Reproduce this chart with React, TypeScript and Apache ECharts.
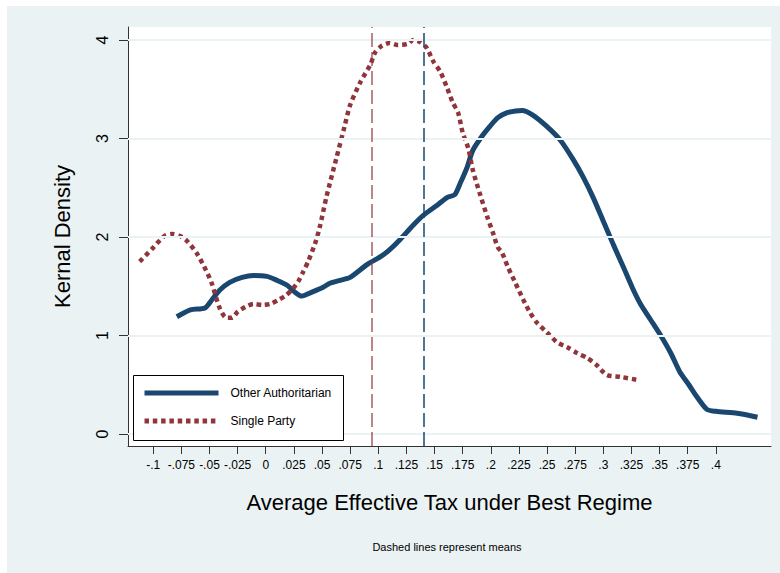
import React, { useEffect, useRef } from "react";
import * as echarts from "echarts";

// Kernel density estimates of average effective tax, by regime type
const authX = [
  -0.079, -0.067, -0.054, -0.048, -0.041, -0.032, -0.021, -0.011, 0.001, 0.01,
  0.019, 0.026, 0.032, 0.041, 0.051, 0.057, 0.066, 0.075, 0.09, 0.102, 0.11,
  0.119, 0.131, 0.14, 0.152, 0.161, 0.168, 0.173, 0.179, 0.184, 0.192, 0.199,
  0.206, 0.214, 0.222, 0.228, 0.237, 0.25, 0.262, 0.273, 0.282, 0.291, 0.3,
  0.309, 0.318, 0.326, 0.333, 0.342, 0.351, 0.36, 0.368, 0.376, 0.383, 0.392,
  0.4, 0.419, 0.437,
];
const authY = [
  1.19, 1.26, 1.28, 1.36, 1.46, 1.54, 1.59, 1.61, 1.6, 1.56,
  1.51, 1.44, 1.4, 1.44, 1.49, 1.53, 1.56, 1.59, 1.72, 1.8, 1.87,
  1.97, 2.12, 2.22, 2.32, 2.4, 2.43, 2.55, 2.71, 2.88, 3.02, 3.12,
  3.21, 3.26, 3.28, 3.285, 3.24, 3.12, 2.98, 2.79, 2.61, 2.4, 2.16,
  1.92, 1.69, 1.48, 1.32, 1.16, 1.0, 0.82, 0.63, 0.5, 0.38, 0.25,
  0.23, 0.21, 0.17,
];

const singleX = [
  -0.112, -0.101, -0.09, -0.083, -0.076, -0.07, -0.061, -0.053, -0.048, -0.041,
  -0.035, -0.03, -0.025, -0.018, -0.011, -0.003, 0.004, 0.011, 0.017, 0.023,
  0.029, 0.033, 0.038, 0.044, 0.048, 0.054, 0.063, 0.07, 0.075, 0.084, 0.093,
  0.097, 0.103, 0.11, 0.117, 0.126, 0.131, 0.137, 0.143, 0.149, 0.155, 0.161,
  0.166, 0.171, 0.175, 0.18, 0.184, 0.19, 0.197, 0.202, 0.206, 0.21, 0.215,
  0.222, 0.229, 0.235, 0.241, 0.25, 0.259, 0.268, 0.277, 0.286, 0.294, 0.303,
  0.315, 0.33,
];
const singleY = [
  1.75, 1.88, 2.01, 2.03, 2.01, 1.96, 1.83, 1.66, 1.53, 1.28,
  1.18, 1.18, 1.24, 1.29, 1.32, 1.31, 1.32, 1.36, 1.4, 1.46,
  1.55, 1.64, 1.76, 1.94, 2.1, 2.41, 2.81, 3.12, 3.34, 3.57, 3.75,
  3.87, 3.94, 3.97, 3.95, 3.96, 4.0, 3.98, 3.92, 3.78, 3.68, 3.52,
  3.37, 3.26, 3.06, 2.9, 2.68, 2.45, 2.2, 2.04, 1.9, 1.84, 1.7,
  1.53, 1.36, 1.23, 1.13, 1.03, 0.93, 0.88, 0.82, 0.77, 0.7, 0.6,
  0.58, 0.55,
];

const seriesNames = ["Other Authoritarian", "Single Party"];
const groupMeans = [0.14, 0.094]; // Other Authoritarian, Single Party

const xTickValues = [
  -0.1, -0.075, -0.05, -0.025, 0, 0.025, 0.05, 0.075, 0.1, 0.125, 0.15, 0.175,
  0.2, 0.225, 0.25, 0.275, 0.3, 0.325, 0.35, 0.375, 0.4,
];
const xTickLabels = [
  "-.1", "-.075", "-.05", "-.025", "0", ".025", ".05", ".075", ".1", ".125",
  ".15", ".175", ".2", ".225", ".25", ".275", ".3", ".325", ".35", ".375", ".4",
];
const yTickValues = [0, 1, 2, 3, 4];
const yTickLabels = ["0", "1", "2", "3", "4"];

const NAVY = "#1a476f";
const MAROON = "#90353b";
const PANEL = "#eaf2f3";
const FONT = "'Liberation Sans', Arial, sans-serif";

const pairs = (xs: number[], ys: number[]) => xs.map((x, i) => [x, ys[i]]);
const labelFor = (vals: number[], labels: string[]) => (v: number) => {
  let best = 0;
  for (let i = 1; i < vals.length; i++) {
    if (Math.abs(vals[i] - v) < Math.abs(vals[best] - v)) best = i;
  }
  return labels[best];
};

export default function App() {
  const ref = useRef<HTMLDivElement>(null);

  useEffect(() => {
    if (!ref.current) return;
    const chart = echarts.init(ref.current, undefined, { renderer: "svg" });

    const gridLeft = 128;
    const gridTop = 27;
    const gridWidth = 643;
    const gridHeight = 419;

    chart.setOption({
      animation: false,
      backgroundColor: "#ffffff",
      textStyle: { fontFamily: FONT },
      graphic: [
        {
          type: "rect",
          z: -10,
          silent: true,
          shape: { x: 7, y: 6, width: 773, height: 567 },
          style: { fill: PANEL },
        },
        {
          type: "rect",
          z: 50,
          silent: true,
          shape: { x: 133.5, y: 375.5, width: 210, height: 65 },
          style: { fill: "#ffffff", stroke: "#000000", lineWidth: 1 },
        },
        {
          type: "text",
          z: 50,
          silent: true,
          x: 447,
          y: 547,
          style: {
            text: "Dashed lines represent means",
            fontSize: 11,
            fontFamily: FONT,
            fill: "#000000",
            align: "center",
            verticalAlign: "middle",
          },
        },
      ],
      grid: {
        left: gridLeft,
        top: gridTop,
        width: gridWidth,
        height: gridHeight,
        show: true,
        backgroundColor: "#ffffff",
        borderWidth: 0,
      },
      legend: {
        z: 60,
        orient: "vertical",
        left: 142,
        top: 387,
        padding: 0,
        itemWidth: 74,
        itemHeight: 14,
        itemGap: 16,
        data: seriesNames,
        selectedMode: false,
        itemStyle: { opacity: 0 },
        lineStyle: { width: 5, cap: "butt" },
        textStyle: {
          fontSize: 12,
          fontFamily: FONT,
          color: "#000000",
          padding: [0, 0, 0, 7],
        },
      },
      xAxis: {
        type: "value",
        min: -0.1224,
        max: 0.449,
        name: "Average Effective Tax under Best Regime",
        nameLocation: "middle",
        nameGap: 45,
        nameTextStyle: { fontSize: 22, color: "#000000", fontFamily: FONT },
        axisLine: { onZero: false, lineStyle: { color: "#333333", width: 1 } },
        axisTick: {
          customValues: xTickValues,
          length: 8,
          lineStyle: { color: "#333333", width: 1 },
        },
        axisLabel: {
          customValues: xTickValues,
          formatter: labelFor(xTickValues, xTickLabels),
          fontSize: 12,
          color: "#000000",
          margin: 13,
          fontFamily: FONT,
        },
        splitLine: { show: false },
      },
      yAxis: {
        type: "value",
        min: -0.122,
        max: 4.132,
        name: "Kernal Density",
        nameLocation: "middle",
        nameGap: 55,
        nameTextStyle: { fontSize: 22, color: "#000000", fontFamily: FONT },
        axisLine: { show: true, onZero: false, lineStyle: { color: "#333333", width: 1 } },
        axisTick: {
          show: true,
          customValues: yTickValues,
          length: 9,
          lineStyle: { color: "#333333", width: 1 },
        },
        axisLabel: {
          customValues: yTickValues,
          formatter: labelFor(yTickValues, yTickLabels),
          rotate: 90,
          fontSize: 16,
          color: "#000000",
          margin: 18,
          fontFamily: FONT,
        },
        splitLine: { show: false },
      },
      series: [
        {
          // light horizontal rules at the y ticks
          name: "rules",
          type: "line",
          data: [],
          z: 1,
          silent: true,
          markLine: {
            silent: true,
            symbol: "none",
            precision: 4,
            label: { show: false },
            lineStyle: { color: PANEL, width: 2, type: "solid" },
            data: yTickValues.map((v) => ({ yAxis: v })),
          },
        },
        {
          // group means
          name: "means",
          type: "line",
          data: [],
          z: 2,
          silent: true,
          markLine: {
            silent: true,
            symbol: "none",
            precision: 4,
            label: { show: false },
            data: [
              {
                xAxis: groupMeans[0],
                lineStyle: { color: NAVY, width: 1.5, type: [14, 5] },
              },
              {
                xAxis: groupMeans[1],
                lineStyle: { color: MAROON, width: 1.5, type: [14, 5], opacity: 0.8 },
              },
            ],
          },
        },
        {
          name: seriesNames[0],
          type: "line",
          z: 3,
          data: pairs(authX, authY),
          symbol: "none",
          smooth: 0.25,
          lineStyle: { color: NAVY, width: 5 },
          itemStyle: { color: NAVY },
        },
        {
          name: seriesNames[1],
          type: "line",
          z: 4,
          data: pairs(singleX, singleY),
          symbol: "none",
          smooth: 0.25,
          lineStyle: { color: MAROON, width: 4.5, type: [4.5, 3.8], cap: "butt" },
          itemStyle: { color: MAROON },
        },
      ],
    });

    return () => chart.dispose();
  }, []);

  return (
    <div
      ref={ref}
      style={{ position: "fixed", left: 0, top: 0, width: 780, height: 573 }}
    />
  );
}
